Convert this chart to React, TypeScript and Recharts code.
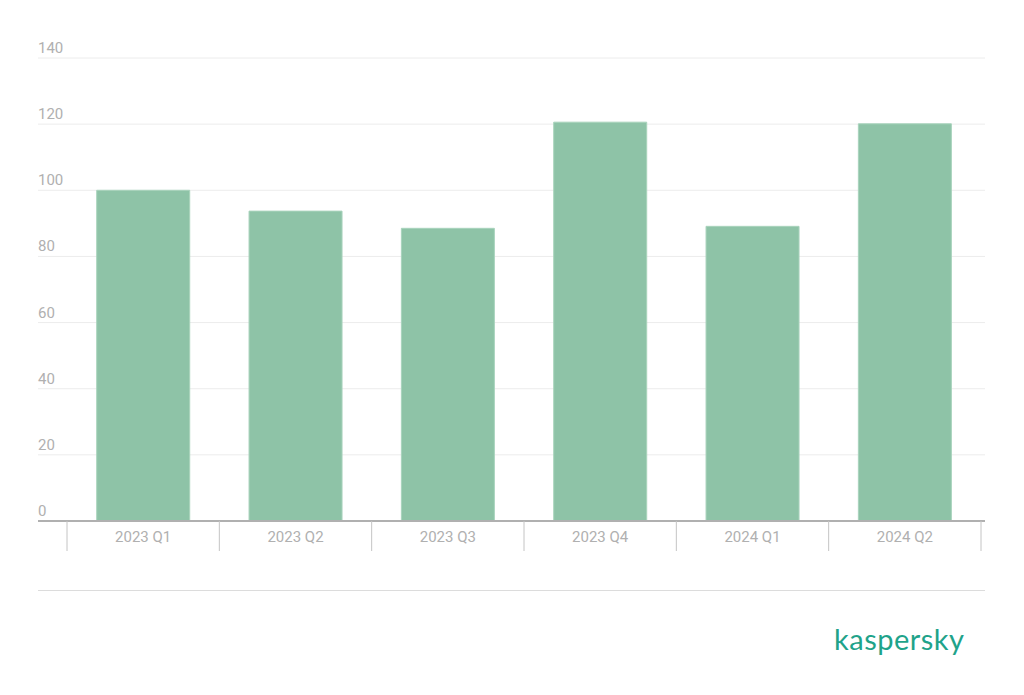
import { BarChart, Bar, XAxis, YAxis, CartesianGrid } from 'recharts';

const quarters = ['2023 Q1', '2023 Q2', '2023 Q3', '2023 Q4', '2024 Q1', '2024 Q2'];
const values = [100, 93.7, 88.5, 120.6, 89.1, 120.1];
const yTicks = [0, 20, 40, 60, 80, 100, 120, 140];

const data = quarters.map((q, i) => ({ quarter: q, value: values[i] }));

// layout
const W = 1024;
const H = 695;
const LEFT = 38;
const RIGHT = 39;
const TOP = 58;
const AXIS_Y = 521;
const X_AXIS_H = 40;
const PAD_L = 29;
const PAD_R = 4;
const BAND = (W - LEFT - RIGHT - PAD_L - PAD_R) / quarters.length;

const YTick = (props: any) => {
  const { y, payload } = props;
  return (
    <text x={LEFT} y={y - 5} fill="#b0b0b0" fontSize={15} fontFamily="Roboto" textAnchor="start">
      {payload.value}
    </text>
  );
};

const XTick = (props: any) => {
  const { x, payload, index } = props;
  const half = BAND / 2;
  return (
    <g>
      <line x1={x - half} x2={x - half} y1={AXIS_Y} y2={AXIS_Y + 30} stroke="#c4c4c4" strokeWidth={1} />
      {index === quarters.length - 1 && (
        <line x1={x + half} x2={x + half} y1={AXIS_Y} y2={AXIS_Y + 30} stroke="#c4c4c4" strokeWidth={1} />
      )}
      <text x={x} y={AXIS_Y + 21} fill="#b0b0b0" fontSize={15} fontFamily="Roboto" textAnchor="middle">
        {payload.value}
      </text>
    </g>
  );
};

export default function App() {
  return (
    <div style={{ position: 'absolute', left: 0, top: 0, width: W, height: H, background: '#fff' }}>
      <BarChart
        width={W}
        height={H}
        data={data}
        margin={{ top: TOP, left: LEFT, right: RIGHT, bottom: H - AXIS_Y - X_AXIS_H }}
        barCategoryGap="19.5%"
      >
        <CartesianGrid vertical={false} stroke="#ececec" />
        <YAxis
          domain={[0, 140]}
          ticks={yTicks}
          mirror
          width={40}
          axisLine={false}
          tickLine={false}
          tick={<YTick />}
          interval={0}
        />
        <XAxis
          dataKey="quarter"
          height={X_AXIS_H}
          padding={{ left: PAD_L, right: PAD_R }}
          axisLine={{ stroke: '#b0b0b0', strokeWidth: 2 }}
          tickLine={false}
          tick={<XTick />}
          interval={0}
        />
        <Bar dataKey="value" fill="#8ec3a7" stroke="#a9d3bc" strokeWidth={1} isAnimationActive={false} />
      </BarChart>
      <div
        style={{
          position: 'absolute',
          left: LEFT,
          top: 590,
          width: W - LEFT - RIGHT,
          borderTop: '1px solid #dcdcdc',
        }}
      />
      <div
        style={{
          position: 'absolute',
          left: 834,
          top: 622,
          fontFamily: 'Lato, "Open Sans", sans-serif',
          fontSize: 29,
          color: '#1fa38a',
          letterSpacing: 0.5,
          lineHeight: '34px',
        }}
      >
        kaspersky
      </div>
    </div>
  );
}
